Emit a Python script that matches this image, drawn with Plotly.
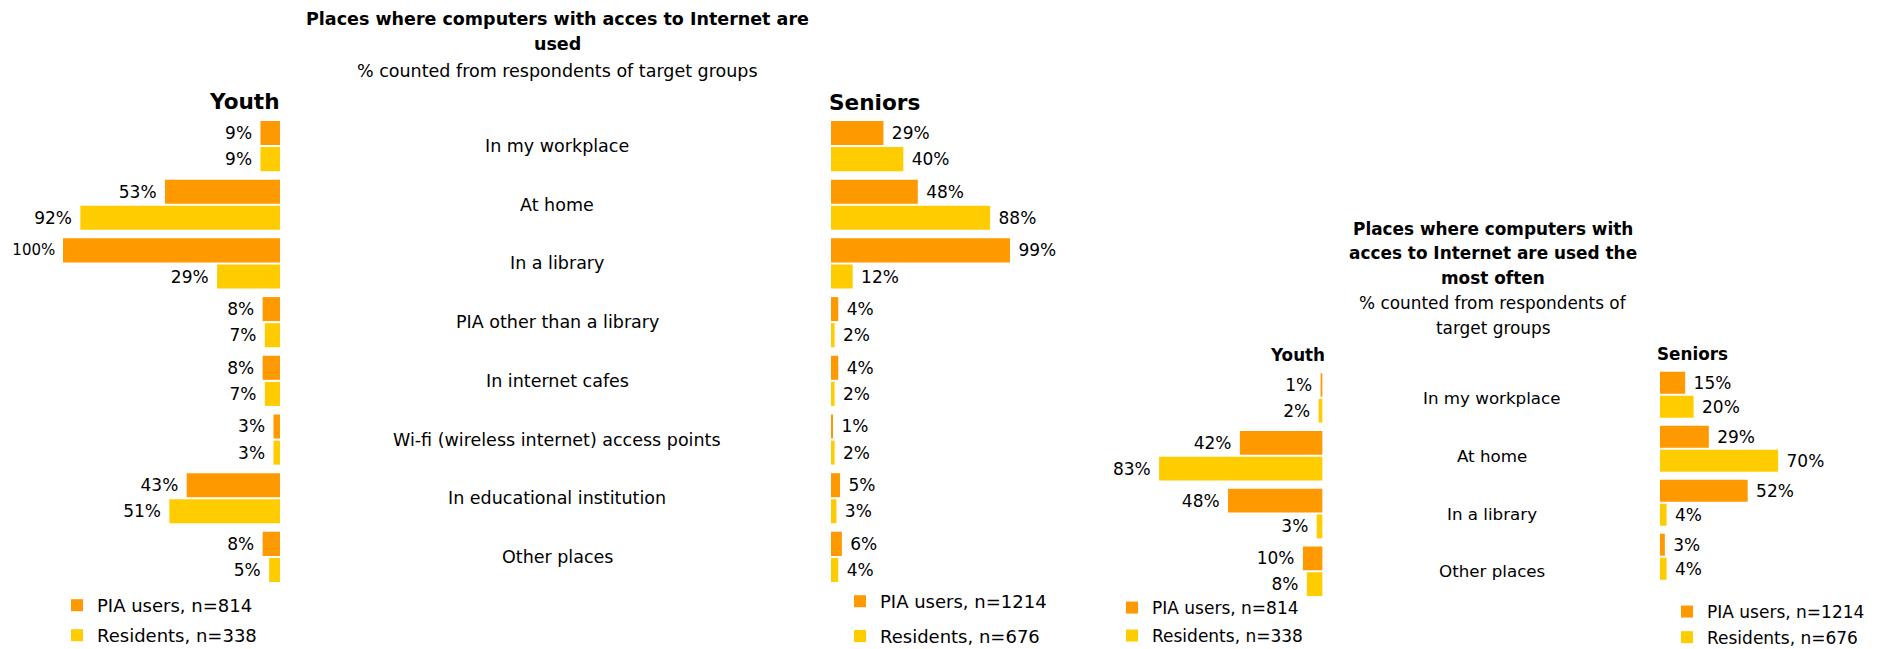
import plotly.graph_objects as go

# ---- data -------------------------------------------------------------
places_all = [
    "In my workplace",
    "At home",
    "In a library",
    "PIA other than a library",
    "In internet cafes",
    "Wi-fi (wireless internet) access points",
    "In educational institution",
    "Other places",
]
youth_pia_all = [9, 53, 100, 8, 8, 3, 43, 8]
youth_res_all = [9, 92, 29, 7, 7, 3, 51, 5]
seniors_pia_all = [29, 48, 99, 4, 4, 1, 5, 6]
seniors_res_all = [40, 88, 12, 2, 2, 2, 3, 4]

places_often = ["In my workplace", "At home", "In a library", "Other places"]
youth_pia_often = [1, 42, 48, 10]
youth_res_often = [2, 83, 3, 8]
seniors_pia_often = [15, 29, 52, 3]
seniors_res_often = [20, 70, 4, 4]

youth_names = ["PIA users, n=814", "Residents, n=338"]
seniors_names = ["PIA users, n=1214", "Residents, n=676"]

# ---- style --------------------------------------------------------------
W, H = 1881, 649
FONT = "DejaVu Sans"
ORANGE = "#FF9900"
YELLOW = "#FFCC00"
NB = "\u00a0"


def px(x):
    return x / W


def py(y):
    return 1 - y / H


fig = go.Figure()


def add_pair(cats, pia, res, names, xa, ya, legend, left_side, big_label=None):
    for vals, name, color in ((pia, names[0], ORANGE), (res, names[1], YELLOW)):
        sizes = [15 if (big_label is not None and v >= big_label) else 17 for v in vals]
        tmpl = ("%{x}%" + NB) if left_side else (NB + "%{x}%")
        fig.add_trace(go.Bar(
            y=cats, x=vals, orientation="h", name=name,
            marker=dict(color=color, line=dict(width=0)),
            texttemplate=tmpl, textposition="outside",
            textfont=dict(family=FONT, size=sizes, color="black"),
            constraintext="none", cliponaxis=False,
            xaxis=xa, yaxis=ya, legend=legend, legendgroup=legend + name,
            hoverinfo="skip",
        ))


add_pair(places_all, youth_pia_all, youth_res_all, youth_names, "x", "y", "legend", True, big_label=100)
add_pair(places_all, seniors_pia_all, seniors_res_all, seniors_names, "x2", "y2", "legend2", False)
add_pair(places_often, youth_pia_often, youth_res_often, youth_names, "x3", "y3", "legend3", True)
add_pair(places_often, seniors_pia_often, seniors_res_often, seniors_names, "x4", "y4", "legend4", False)


def xaxis(domain, rng):
    return dict(domain=[px(domain[0]), px(domain[1])], range=rng, visible=False, fixedrange=True)


def yaxis(domain, cats, anchor):
    return dict(domain=[py(domain[1]), py(domain[0])], type="category",
                categoryorder="array", categoryarray=cats,
                range=[len(cats) - 0.5, -0.5], visible=False, anchor=anchor)


annotations = []


def text(x, y, s, size, bold=False, xanchor="center"):
    annotations.append(dict(
        x=px(x), y=py(y), xref="paper", yref="paper", text=f"<b>{s}</b>" if bold else s,
        showarrow=False, xanchor=xanchor, yanchor="middle",
        font=dict(family=FONT, size=size, color="black"),
    ))


# headings of the first chart
text(557, 19, "Places where computers with acces to Internet are", 17.5, bold=True)
text(557, 44, "used", 17.5, bold=True)
text(557, 71, "% counted from respondents of target groups", 17.5)
text(282, 101, "Youth", 21.6, bold=True, xanchor="right")
text(827, 102, "Seniors", 21.6, bold=True, xanchor="left")

# headings of the second chart
text(1493, 229, "Places where computers with", 16.9, bold=True)
text(1493, 253, "acces to Internet are used the", 16.9, bold=True)
text(1493, 278, "most often", 16.9, bold=True)
text(1493, 303, "% counted from respondents of", 16.9)
text(1493, 328, "target groups", 16.9)
text(1327, 355, "Youth", 16.8, bold=True, xanchor="right")
text(1655, 354, "Seniors", 16.8, bold=True, xanchor="left")

# category names between the two halves of each chart
for i, c in enumerate(places_all):
    annotations.append(dict(x=px(557), xref="paper", y=i, yref="y", text=c, showarrow=False,
                            xanchor="center", yanchor="middle",
                            font=dict(family=FONT, size=17.5, color="black")))
for i, c in enumerate(places_often):
    annotations.append(dict(x=px(1492), xref="paper", y=i, yref="y3", text=c, showarrow=False,
                            xanchor="center", yanchor="middle",
                            font=dict(family=FONT, size=16.7, color="black")))


def legend(x, y, size, gap):
    return dict(x=px(x), y=py(y), xanchor="left", yanchor="top", orientation="v",
                bgcolor="rgba(0,0,0,0)", borderwidth=0, itemwidth=30,
                traceorder="grouped", tracegroupgap=gap, itemclick=False,
                font=dict(family=FONT, size=size, color="black"))


fig.update_layout(
    width=W, height=H,
    margin=dict(l=0, r=0, t=0, b=0, autoexpand=False),
    paper_bgcolor="white", plot_bgcolor="white",
    barmode="group", bargap=0.11, bargroupgap=0.08,
    showlegend=True,
    xaxis=xaxis((63, 280), [100, 0]),
    yaxis=yaxis((116.7, 586.3), places_all, "x"),
    xaxis2=xaxis((831, 1048), [0, 120]),
    yaxis2=yaxis((116.7, 586.3), places_all, "x2"),
    xaxis3=xaxis((1125.6, 1322.6), [100, 0]),
    yaxis3=yaxis((369, 600.2), places_often, "x3"),
    xaxis4=xaxis((1659.8, 1862.6), [0, 120]),
    yaxis4=yaxis((367.7, 583.8), places_often, "x4"),
    legend=legend(57, 587, 18, 3.6),
    legend2=legend(840, 583, 18, 8.4),
    legend3=legend(1112, 590, 17, 2.9),
    legend4=legend(1667, 594, 17, 0.5),
    annotations=annotations,
)

fig.write_html("out.html")
